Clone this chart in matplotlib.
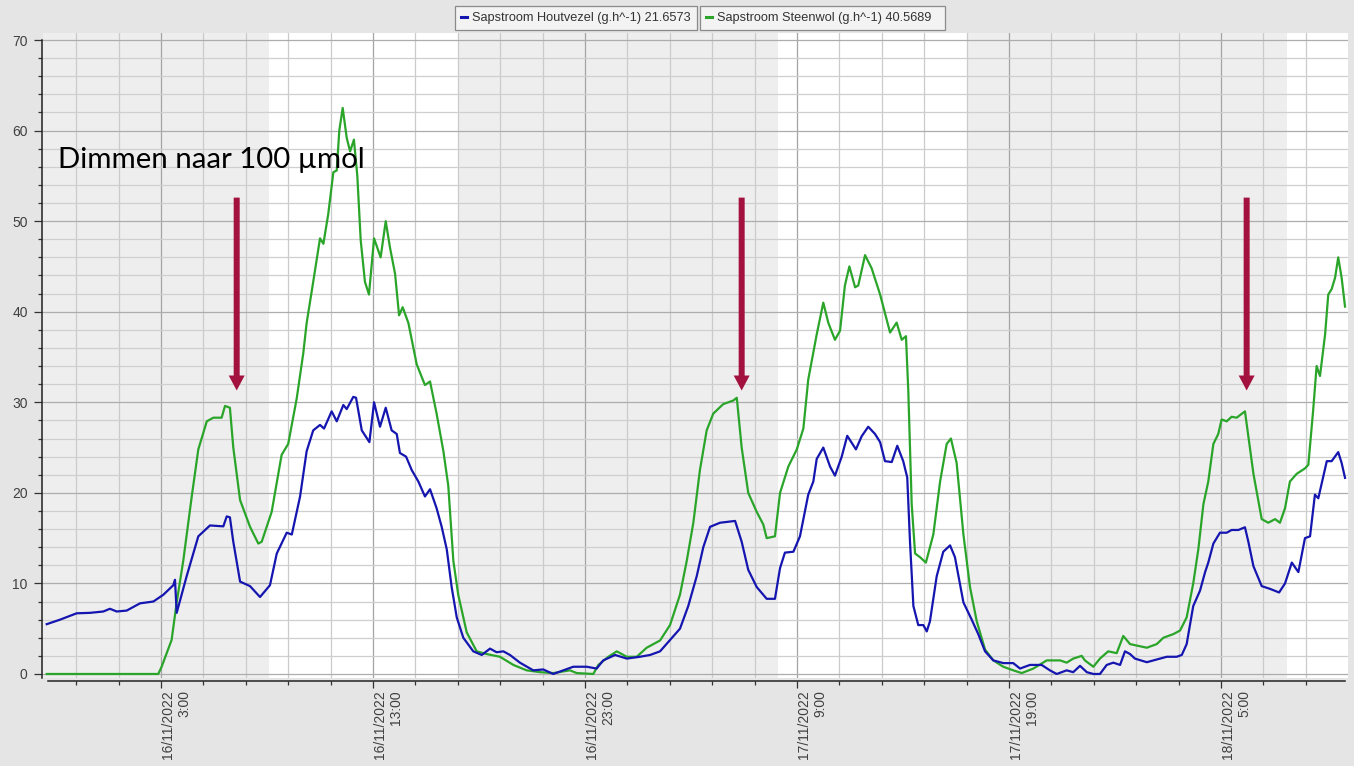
import matplotlib
matplotlib.use("Agg")
import matplotlib.pyplot as plt
from matplotlib.patches import Rectangle
from matplotlib.lines import Line2D
from matplotlib.ticker import MultipleLocator, FixedLocator

# Time axis: hours since 16/11/2022 00:00
houtvezel_hours = [
    -2.39, -1.76, -0.98, -0.35, 0.28, 0.59, 0.91, 1.38, 2.01, 2.64,
    3.11, 3.58, 3.66, 3.74, 4.21, 4.76, 5.31, 5.94, 6.10, 6.25,
    6.41, 6.73, 7.20, 7.67, 8.14, 8.46, 8.93, 9.17, 9.56, 9.87,
    10.18, 10.50, 10.69, 11.05, 11.29, 11.60, 11.76, 12.07, 12.20, 12.47,
    12.83, 13.05, 13.33, 13.60, 13.88, 14.12, 14.27, 14.56, 14.83, 15.14,
    15.45, 15.69, 16.00, 16.24, 16.48, 16.71, 16.95, 17.26, 17.73, 18.13,
    18.52, 18.83, 19.15, 19.46, 19.93, 20.56, 21.03, 21.50, 21.98, 22.45,
    23.08, 23.55, 23.86, 24.42, 24.97, 25.59, 26.07, 26.54, 27.01, 27.48,
    27.87, 28.27, 28.58, 28.90, 29.37, 30.08, 30.39, 30.70, 31.10, 31.57,
    31.96, 32.20, 32.43, 32.83, 33.14, 33.53, 33.77, 33.93, 34.24, 34.56,
    34.79, 35.11, 35.37, 35.78, 36.05, 36.36, 36.68, 36.92, 37.15, 37.47,
    37.73, 38.01, 38.20, 38.33, 38.49, 38.72, 38.96, 39.12, 39.27, 39.59,
    39.90, 40.22, 40.45, 40.85, 41.24, 41.55, 41.87, 42.26, 42.73, 43.20,
    43.52, 43.99, 44.54, 44.93, 45.25, 45.72, 46.03, 46.35, 46.67, 46.98,
    47.29, 47.61, 47.92, 48.24, 48.47, 48.71, 48.94, 49.50, 49.97, 50.44,
    50.91, 51.15, 51.38, 51.69, 52.01, 52.25, 52.40, 52.64, 52.95, 53.27,
    53.50, 53.82, 54.13, 54.29, 54.53, 54.92, 55.31, 55.74, 56.02, 56.34,
    56.65, 56.96, 57.20, 57.43, 57.59, 57.99, 58.22, 58.53, 58.69, 58.85,
]
houtvezel_flow = [
    5.5, 6.0, 6.7, 6.75, 6.9, 7.2, 6.9, 7.0, 7.8, 8.0,
    8.75, 9.8, 10.4, 6.75, 10.8, 15.2, 16.4, 16.3, 17.4, 17.3,
    14.6, 10.2, 9.7, 8.5, 9.8, 13.3, 15.6, 15.4, 19.6, 24.6,
    26.9, 27.5, 27.1, 29.0, 27.9, 29.7, 29.25, 30.6, 30.5, 26.9,
    25.6, 30.0, 27.3, 29.4, 26.9, 26.5, 24.4, 24.0, 22.5, 21.25,
    19.6, 20.4, 18.3, 16.25, 13.75, 9.6, 6.25, 4.0, 2.5, 2.1,
    2.8, 2.4, 2.5, 2.1, 1.25, 0.4, 0.5, 0.0, 0.4, 0.8,
    0.8, 0.6, 1.5, 2.1, 1.7, 1.9, 2.1, 2.5, 3.75, 5.0,
    7.5, 10.8, 14.0, 16.25, 16.7, 16.9, 14.6, 11.5, 9.6, 8.3,
    8.3, 11.7, 13.4, 13.5, 15.2, 19.8, 21.25, 23.75, 25.0, 22.9,
    21.9, 24.0, 26.3, 24.8, 26.25, 27.3, 26.5, 25.6, 23.5, 23.4,
    25.2, 23.5, 21.7, 14.6, 7.5, 5.4, 5.4, 4.7, 5.8, 10.8,
    13.5, 14.2, 12.9, 7.9, 6.0, 4.4, 2.5, 1.5, 1.2, 1.2,
    0.6, 1.0, 1.0, 0.4, 0.0, 0.4, 0.2, 0.9, 0.2, 0.0,
    0.0, 1.0, 1.25, 1.0, 2.5, 2.2, 1.7, 1.3, 1.6, 1.9,
    1.9, 2.1, 3.3, 7.5, 9.2, 11.25, 12.3, 14.4, 15.6, 15.6,
    15.9, 15.9, 16.2, 14.6, 11.9, 9.7, 9.4, 9.0, 10.0, 12.3,
    11.25, 15.0, 15.2, 19.8, 19.4, 23.5, 23.5, 24.5, 23.3, 21.6573,
]

steenwol_hours = [
    -2.39, 2.87, 3.03, 3.50, 3.74, 4.05, 4.45, 4.76, 5.16, 5.47,
    5.86, 6.02, 6.25, 6.41, 6.73, 7.20, 7.59, 7.75, 8.22, 8.69,
    9.00, 9.40, 9.71, 9.87, 10.18, 10.50, 10.66, 10.89, 11.13, 11.29,
    11.41, 11.57, 11.76, 11.92, 12.10, 12.26, 12.42, 12.62, 12.81, 13.05,
    13.36, 13.60, 13.80, 14.04, 14.23, 14.40, 14.67, 15.06, 15.45, 15.69,
    16.00, 16.32, 16.55, 16.79, 17.02, 17.42, 17.89, 18.36, 18.99, 19.62,
    20.25, 20.88, 21.50, 22.29, 22.61, 23.39, 23.63, 24.10, 24.50, 24.97,
    25.44, 25.91, 26.54, 27.01, 27.48, 27.80, 28.11, 28.42, 28.74, 29.05,
    29.52, 30.00, 30.16, 30.39, 30.70, 31.10, 31.41, 31.57, 31.96, 32.20,
    32.59, 32.99, 33.30, 33.53, 33.93, 34.24, 34.48, 34.79, 35.03, 35.26,
    35.47, 35.74, 35.89, 36.21, 36.52, 36.92, 37.39, 37.70, 37.94, 38.14,
    38.25, 38.41, 38.57, 38.80, 39.08, 39.43, 39.75, 40.06, 40.26, 40.53,
    40.85, 41.16, 41.48, 41.87, 42.26, 42.73, 43.20, 43.60, 44.15, 44.78,
    45.41, 45.72, 46.03, 46.43, 46.58, 46.98, 47.29, 47.68, 48.08, 48.39,
    48.71, 49.10, 49.50, 49.97, 50.28, 50.75, 51.07, 51.38, 51.69, 51.93,
    52.17, 52.40, 52.64, 52.87, 53.03, 53.27, 53.50, 53.74, 54.13, 54.29,
    54.53, 54.92, 55.23, 55.55, 55.78, 56.02, 56.25, 56.57, 56.96, 57.12,
    57.35, 57.51, 57.67, 57.91, 58.06, 58.22, 58.38, 58.53, 58.69, 58.85,
]
steenwol_flow = [
    0.0, 0.0, 0.8, 3.75, 7.9, 12.5, 19.6, 24.8, 27.9, 28.3,
    28.3, 29.6, 29.4, 25.0, 19.2, 16.25, 14.4, 14.6, 17.9, 24.2,
    25.4, 30.4, 35.4, 38.75, 43.3, 48.1, 47.5, 50.8, 55.4, 55.6,
    60.0, 62.5, 59.2, 57.7, 59.0, 55.0, 47.9, 43.3, 41.9, 48.1,
    46.0, 50.0, 47.1, 44.2, 39.6, 40.5, 38.75, 34.2, 31.9, 32.3,
    28.75, 24.6, 20.8, 12.5, 8.75, 4.6, 2.5, 2.2, 1.9, 1.0,
    0.4, 0.2, 0.1, 0.4, 0.1, 0.0, 1.0, 1.9, 2.5, 1.9,
    1.9, 2.9, 3.7, 5.4, 8.75, 12.5, 16.7, 22.5, 26.9, 28.75,
    29.8, 30.2, 30.5, 25.0, 20.0, 17.9, 16.5, 15.0, 15.2, 20.0,
    22.9, 24.8, 27.1, 32.5, 37.5, 41.0, 38.75, 36.9, 37.9, 42.9,
    45.0, 42.7, 42.9, 46.25, 44.8, 41.9, 37.7, 38.8, 36.9, 37.3,
    31.25, 18.75, 13.3, 12.9, 12.3, 15.4, 21.25, 25.4, 26.0, 23.3,
    15.4, 9.6, 5.8, 2.7, 1.5, 0.8, 0.4, 0.1, 0.6, 1.5,
    1.5, 1.25, 1.7, 2.0, 1.5, 0.8, 1.7, 2.5, 2.3, 4.2,
    3.3, 3.1, 2.9, 3.3, 4.0, 4.4, 4.8, 6.25, 10.0, 13.75,
    18.75, 21.25, 25.4, 26.5, 28.1, 27.9, 28.4, 28.3, 29.0, 26.25,
    22.1, 17.1, 16.7, 17.1, 16.7, 18.3, 21.25, 22.1, 22.7, 23.1,
    29.2, 34.0, 32.9, 37.5, 41.9, 42.5, 43.75, 46.0, 43.75, 40.5689,
]

series_names = ["Sapstroom Houtvezel (g.h^-1)", "Sapstroom Steenwol (g.h^-1)"]

# Daylight periods (white background), hours since 16/11 00:00
light_periods = [(8.1, 17.0), (32.1, 41.0), (56.1, 65.0)]

# Moments the lamps were dimmed
dim_hours = [6.57, 30.39, 54.21]
dim_label = "Dimmen naar 100 µmol"

tick_hours = [3, 13, 23, 33, 43, 53]
tick_labels = ["16/11/2022\n3:00", "16/11/2022\n13:00", "16/11/2022\n23:00",
               "17/11/2022\n9:00", "17/11/2022\n19:00", "18/11/2022\n5:00"]

BLUE = "#1515b0"
GREEN = "#2aa52a"
ARROW = "#a3123f"
TICK_FONT = "Liberation Sans"

fig = plt.figure(figsize=(13.54, 7.66), dpi=100, facecolor="#e5e5e5")
ax = fig.add_axes([0.03176, 0.1154, 0.9638, 0.8418])
ax.set_facecolor("#eeeeee")

ax.set_xlim(-2.566, 58.99)
ax.set_ylim(-0.4, 70.8)

for start, end in light_periods:
    ax.axvspan(start, end, color="white", lw=0, zorder=0.1)

# grid
ax.xaxis.set_major_locator(FixedLocator(tick_hours))
ax.xaxis.set_minor_locator(MultipleLocator(2, offset=1))
ax.yaxis.set_major_locator(MultipleLocator(10))
ax.yaxis.set_minor_locator(MultipleLocator(2))
ax.grid(which="major", axis="x", color="#a4a4a4", lw=0.9, zorder=0.3)
ax.grid(which="minor", axis="x", color="#cbcbcb", lw=0.9, zorder=0.3)
ax.grid(which="major", axis="y", color="#adadad", lw=0.9, zorder=0.3)
ax.grid(which="minor", axis="y", color="#cfcfcf", lw=0.9, zorder=0.3)

ax.plot(houtvezel_hours, houtvezel_flow, color=BLUE, lw=1.6, zorder=3)
ax.plot(steenwol_hours, steenwol_flow, color=GREEN, lw=1.6, zorder=2.9)

# dimming arrows
for h in dim_hours:
    ax.annotate("", xy=(h, 31.3), xytext=(h, 52.6),
                arrowprops=dict(arrowstyle="simple,head_length=1.5,head_width=1.6,tail_width=0.6",
                                mutation_scale=7.2, color=ARROW, lw=0,
                                shrinkA=0, shrinkB=0),
                zorder=4)
ax.text(-1.86, 55.9, dim_label, fontsize=21.2, family=["Lato", "DejaVu Sans"],
        color="black", ha="left", va="baseline", zorder=5)

# axes styling
for side in ("top", "right"):
    ax.spines[side].set_visible(False)
ax.spines["left"].set_position(("outward", 1))
ax.spines["bottom"].set_position(("outward", 2.5))
ax.spines["left"].set_bounds(-0.4, 70)
ax.spines["bottom"].set_bounds(-2.33, 58.85)
for side in ("left", "bottom"):
    ax.spines[side].set_color("#222222")
    ax.spines[side].set_linewidth(1.1)

ax.set_xticklabels(tick_labels, rotation=90, ha="left", va="top",
                   multialignment="right", fontsize=10, family=TICK_FONT,
                   color="#404040")
ax.tick_params(axis="x", which="major", length=5, width=0.9, color="#333333", pad=1.5)
ax.tick_params(axis="x", which="minor", length=3, width=0.9, color="#333333")
ax.tick_params(axis="y", which="major", length=6, width=0.9, color="#333333", pad=4,
               labelsize=10, labelcolor="#404040")
ax.tick_params(axis="y", which="minor", length=3, width=0.9, color="#333333")
for lbl in ax.get_yticklabels():
    lbl.set_family(TICK_FONT)

# legend: one framed box per series, centred on top
W, H = 1354.0, 766.0
legend_items = [
    (series_names[0], houtvezel_flow[-1], BLUE, 455, 697),
    (series_names[1], steenwol_flow[-1], GREEN, 700, 945),
]
for name, last, col, x0, x1 in legend_items:
    fig.patches.append(Rectangle((x0 / W, 1 - 30 / H), (x1 - x0) / W, 24 / H,
                                 transform=fig.transFigure, facecolor="#f3f3f3",
                                 edgecolor="#8a8a8a", lw=0.9))
    fig.lines.append(Line2D([(x0 + 6) / W, (x0 + 12) / W], [1 - 17 / H, 1 - 17 / H],
                            transform=fig.transFigure, color=col, lw=2.2))
    fig.text((x0 + 17) / W, 1 - 17.5 / H, f"{name} {last:.4f}", fontsize=9.2,
             family=TICK_FONT, color="#333333", ha="left", va="center")

fig.savefig("out.png", dpi=100, facecolor=fig.get_facecolor())
